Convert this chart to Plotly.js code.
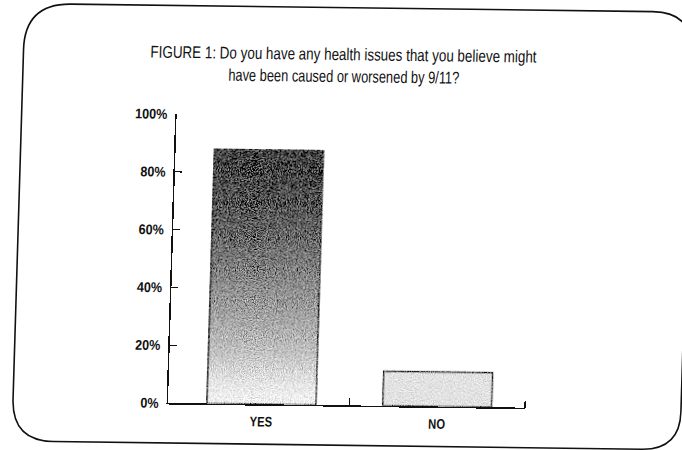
<!DOCTYPE html>
<html>
<head>
<meta charset="utf-8">
<script src="https://cdn.plot.ly/plotly-3.0.1.min.js"></script>
<style>
  html, body { margin: 0; padding: 0; background: #fff; overflow: hidden; }
  #chart {
    width: 682px; height: 450px;
    /* photocopy-style slant of the printed figure */
    transform: matrix(1, 0.013, -0.03, 1, 0, 0);
    transform-origin: 168px 403px;
  }
</style>
</head>
<body>
<div id="chart"></div>
<script>
// Survey answers and their share of respondents (%)
const categories = ['YES', 'NO'];
const shares = [88, 12];

// Axis ticks
const yTickVals = [0, 20, 40, 60, 80, 100];
const yTickText = ['0%', '20%', '40%', '60%', '80%', '100%'];

const titleLine1 = 'FIGURE 1: Do you have any health issues that you believe might';
const titleLine2 = 'have been caused or worsened by 9/11?';

// Plot-area geometry in pixels
const W = 682, H = 450;
const M = { l: 168, r: 157, t: 114, b: 47 };
const plotW = W - M.l - M.r, plotH = H - M.t - M.b;
const px = x => (x - M.l) / plotW;          // pixel -> paper x
const py = y => (H - M.b - y) / plotH;      // pixel -> paper y

const FONT = "'Liberation Sans', Arial, sans-serif";
const INK = '#111111';

const xIdx = categories.map((_, i) => i);

const trace = {
  type: 'bar',
  x: xIdx,
  y: shares,
  width: 0.62,
  marker: {
    color: ['#8a8a8a', '#e2e2e2'],
    line: { color: INK, width: 1.5 }
  },
  hoverinfo: 'skip'
};

// Rounded frame around the whole figure
function framePath(L, T, R, B, tl, tr, br, bl) {
  const p = (x, y) => px(x) + ',' + py(y);
  return 'M' + p(L, T + tl) + ' Q' + p(L, T) + ' ' + p(L + tl, T) +
         ' L' + p(R - tr, T) + ' Q' + p(R, T) + ' ' + p(R, T + tr) +
         ' L' + p(R, B - br) + ' Q' + p(R, B) + ' ' + p(R - br, B) +
         ' L' + p(L + bl, B) + ' Q' + p(L, B) + ' ' + p(L, B - bl) + ' Z';
}

const layout = {
  width: W, height: H,
  margin: M,
  paper_bgcolor: '#fff', plot_bgcolor: '#fff',
  showlegend: false,
  font: { family: FONT, color: INK },
  title: {
    text: titleLine1,
    font: { family: FONT, size: 17, color: INK },
    xref: 'container', x: 333 / W, xanchor: 'center',
    yref: 'container', y: 1 - 52 / H, yanchor: 'middle'
  },
  annotations: [{
    text: titleLine2, showarrow: false,
    xref: 'paper', x: px(334), xanchor: 'center',
    yref: 'paper', y: py(75), yanchor: 'middle',
    font: { family: FONT, size: 17, color: INK }
  }],
  xaxis: {
    type: 'linear',
    range: [-0.531, 1.5],
    tickmode: 'array', tickvals: xIdx, ticktext: categories,
    ticks: '', showgrid: false, zeroline: false,
    showline: true, linecolor: INK, linewidth: 1.5,
    tickfont: { family: FONT, size: 14, weight: 'bold', color: INK },
    ticklabelstandoff: 4,
    minor: { tickmode: 'array', tickvals: [0.5, 1.5], ticks: 'inside', ticklen: 7, tickwidth: 1.3, tickcolor: INK, showgrid: false },
    fixedrange: true
  },
  yaxis: {
    range: [0, 100],
    tickmode: 'array', tickvals: yTickVals, ticktext: yTickText,
    ticks: 'inside', ticklen: 7, tickwidth: 1.3, tickcolor: INK,
    showgrid: false, zeroline: false,
    showline: true, linecolor: INK, linewidth: 1.5,
    tickfont: { family: FONT, size: 14, weight: 'bold', color: INK },
    ticklabelstandoff: 5,
    fixedrange: true
  },
  shapes: [{
    type: 'path', xref: 'paper', yref: 'paper', layer: 'above',
    path: framePath(13, 5.5, 681, 443, 46, 40, 38, 42),
    line: { color: INK, width: 1.6 }
  }]
};

// squeeze a text element to a condensed width
function condense(el, factor, target) {
  if (!el) return;
  const w = el.getComputedTextLength();
  el.setAttribute('textLength', target || w * factor);
  el.setAttribute('lengthAdjust', 'spacingAndGlyphs');
}

Plotly.newPlot('chart', [trace], layout, { staticPlot: true, displayModeBar: false }).then(gd => {
  const NS = 'http://www.w3.org/2000/svg';
  const svg = gd.querySelector('.main-svg');
  let defs = svg.querySelector('defs');
  if (!defs) { defs = document.createElementNS(NS, 'defs'); svg.insertBefore(defs, svg.firstChild); }

  // condensed lettering
  condense(gd.querySelector('.g-gtitle text'), 1, 386);
  condense(gd.querySelector('.annotation-text'), 1, 231);
  gd.querySelectorAll('.xtick text').forEach(t => condense(t, 0.8));
  gd.querySelectorAll('.ytick text').forEach(t => condense(t, 0.9));

  // dark-to-light vertical shading for the YES bar
  const grad = document.createElementNS(NS, 'linearGradient');
  grad.setAttribute('id', 'yesShade');
  grad.setAttribute('x1', '0'); grad.setAttribute('y1', '0');
  grad.setAttribute('x2', '0'); grad.setAttribute('y2', '1');
  [['0', '#151515'], ['0.22', '#474747'], ['0.5', '#858585'], ['0.78', '#bdbdbd'], ['0.92', '#e6e6e6'], ['1', '#f4f4f4']]
    .forEach(([o, c]) => {
      const s = document.createElementNS(NS, 'stop');
      s.setAttribute('offset', o); s.setAttribute('stop-color', c);
      grad.appendChild(s);
    });
  defs.appendChild(grad);

  // printed-screen grain
  function grain(id, amount, seed) {
    const f = document.createElementNS(NS, 'filter');
    f.setAttribute('id', id);
    f.setAttribute('x', '-5%'); f.setAttribute('y', '-3%');
    f.setAttribute('width', '110%'); f.setAttribute('height', '106%');
    f.innerHTML =
      '<feTurbulence type="fractalNoise" baseFrequency="0.9" numOctaves="2" seed="' + seed + '" result="n"/>' +
      '<feColorMatrix in="n" type="matrix" values="1 0 0 0 0  1 0 0 0 0  1 0 0 0 0  0 0 0 0 1" result="g"/>' +
      '<feComposite in="SourceGraphic" in2="g" operator="arithmetic" k1="0" k2="1" k3="' + amount + '" k4="' + (-amount / 2) + '" result="m"/>' +
      '<feComposite in="m" in2="SourceAlpha" operator="in"/>';
    defs.appendChild(f);
  }
  grain('grainDark', 1.3, 4);
  grain('grainLight', 0.8, 9);

  const bars = gd.querySelectorAll('.trace.bars .point path');
  if (bars[0]) { bars[0].style.fill = 'url(#yesShade)'; bars[0].setAttribute('filter', 'url(#grainDark)'); }
  if (bars[1]) { bars[1].setAttribute('filter', 'url(#grainLight)'); }
});
</script>
</body>
</html>
